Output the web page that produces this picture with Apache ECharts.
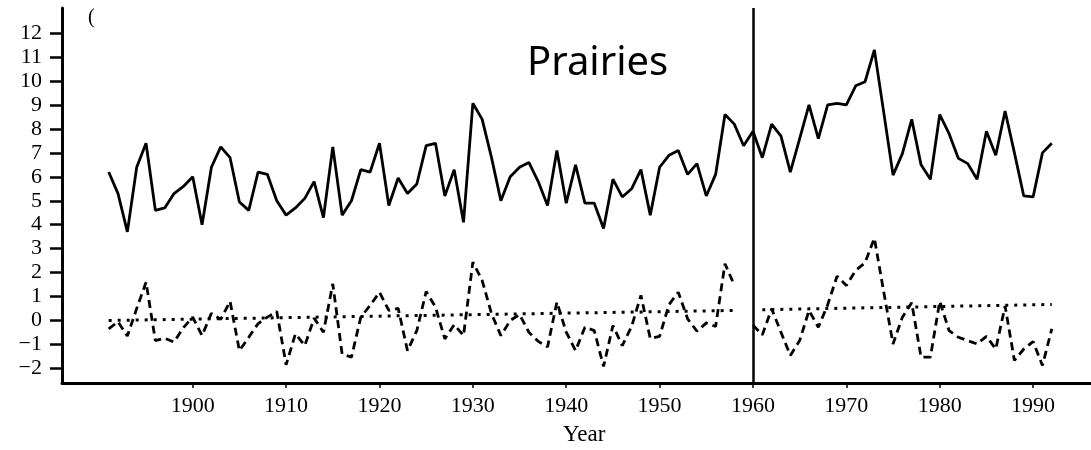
<!DOCTYPE html>
<html>
<head>
<meta charset="utf-8">
<script src="https://cdn.jsdelivr.net/npm/echarts@6/dist/echarts.min.js"></script>
<style>
  html, body { margin: 0; padding: 0; background: #fff; }
  #chart { width: 1091px; height: 450px; }
</style>
</head>
<body>
<div id="chart"></div>
<script>
// data, one value per year from 1891
const firstYear = 1891;
const solidValues = [
  6.2, 5.3, 3.7, 6.4, 7.4, 4.6, 4.7, 5.3, 5.6, 6.0,
  4.0, 6.4, 7.25, 6.8, 4.95, 4.6, 6.2, 6.1, 5.0, 4.4,
  4.7, 5.1, 5.8, 4.3, 7.25, 4.4, 5.0, 6.3, 6.2, 7.4,
  4.8, 5.95, 5.3, 5.7, 7.3, 7.4, 5.2, 6.3, 4.1, 9.07,
  8.4, 6.8, 5.0, 6.0, 6.4, 6.6, 5.8, 4.8, 7.1, 4.9,
  6.5, 4.9, 4.9, 3.84, 5.9, 5.16, 5.5, 6.3, 4.4, 6.4,
  6.9, 7.1, 6.1, 6.55, 5.2, 6.1, 8.6, 8.2, 7.3, 7.9,
  6.8, 8.2, 7.7, 6.2, 7.6, 9.0, 7.6, 9.0, 9.07, 9.0,
  9.8, 9.97, 11.3, 8.7, 6.07, 6.97, 8.4, 6.5, 5.9, 8.6,
  7.8, 6.77, 6.55, 5.9, 7.9, 6.9, 8.75, 7.0, 5.2, 5.16,
  7.0, 7.4
];
const dashedValues = [
  -0.35, -0.05, -0.65, 0.5, 1.6, -0.84, -0.74, -0.9, -0.3, 0.14,
  -0.63, 0.3, 0.05, 0.8, -1.26, -0.7, -0.13, 0.14, 0.38, -1.85,
  -0.56, -1.05, 0.1, -0.49, 1.53, -1.4, -1.53, 0.14, 0.63, 1.18,
  0.42, 0.51, -1.26, -0.42, 1.21, 0.56, -0.77, -0.17, -0.63, 2.44,
  1.67, 0.28, -0.63, 0.0, 0.25, -0.49, -0.87, -1.1, 0.77, -0.49,
  -1.26, -0.28, -0.42, -1.92, -0.21, -1.05, -0.25, 1.05, -0.75, -0.66,
  0.66, 1.18, 0.07, -0.45, -0.1, -0.25, 2.37, 1.48, null, -0.2,
  -0.6, 0.49, -0.49, -1.46, -0.84, 0.42, -0.28, 0.66, 1.85, 1.46,
  2.09, 2.41, 3.44, 1.2, -0.98, 0.14, 0.74, -1.53, -1.53, 0.8,
  -0.42, -0.7, -0.84, -0.98, -0.66, -1.19, 0.6, -1.67, -1.19, -0.88,
  -1.88, -0.35
];
// dotted trend lines, start and end of each period
const trendBefore = [[1891, 0.0], [1958, 0.42]];
const trendAfter = [[1961, 0.45], [1992, 0.67]];
const breakYear = 1960;
const xTicks = [1900, 1910, 1920, 1930, 1940, 1950, 1960, 1970, 1980, 1990];
const yTicks = [-2, -1, 0, 1, 2, 3, 4, 5, 6, 7, 8, 9, 10, 11, 12];

const years = solidValues.map((_, i) => firstYear + i);
const serif = '"Liberation Serif", "Times New Roman", serif';

const chart = echarts.init(document.getElementById('chart'));
chart.setOption({
  animation: false,
  backgroundColor: '#fff',
  grid: { left: 62, right: 0, top: 8, bottom: 67, containLabel: false },
  xAxis: {
    type: 'value',
    min: 1886,
    max: 1996.2,
    splitLine: { show: false },
    axisLine: { onZero: false, lineStyle: { color: '#000', width: 3 } },
    axisTick: { length: 5, lineStyle: { color: '#000', width: 1.5 }, customValues: xTicks },
    axisLabel: {
      color: '#000', fontFamily: serif, fontSize: 22, margin: 12,
      customValues: xTicks, formatter: (v) => String(v),
    },
  },
  yAxis: {
    type: 'value',
    min: -2.61,
    max: 13.05,
    splitLine: { show: false },
    axisLine: { show: true, onZero: false, lineStyle: { color: '#000', width: 3 } },
    axisTick: { show: true, length: 12, lineStyle: { color: '#000', width: 2.5 }, customValues: yTicks },
    axisLabel: {
      color: '#000', fontFamily: serif, fontSize: 22, margin: 20,
      customValues: yTicks, formatter: (v) => String(v).replace('-', '\u2212'),
    },
  },
  series: [
    {
      type: 'line',
      data: years.map((y, i) => [y, solidValues[i]]),
      showSymbol: false,
      lineStyle: { color: '#000', width: 2.8 },
      markLine: {
        silent: true,
        symbol: 'none',
        label: { show: false },
        lineStyle: { color: '#000', width: 2.5, type: 'solid' },
        data: [{ xAxis: breakYear }],
      },
    },
    {
      type: 'line',
      data: years.map((y, i) => [y, dashedValues[i]]),
      showSymbol: false,
      connectNulls: false,
      lineStyle: { color: '#000', width: 2.8, type: [8, 5] },
    },
    {
      type: 'line',
      data: trendBefore,
      showSymbol: false,
      lineStyle: { color: '#000', width: 3, type: [3, 6] },
    },
    {
      type: 'line',
      data: trendAfter,
      showSymbol: false,
      lineStyle: { color: '#000', width: 3, type: [3, 6] },
    },
  ],
  graphic: [
    {
      type: 'text',
      left: 527,
      top: 44,
      style: { text: 'Prairies', font: '40px "Noto Sans", "Open Sans", sans-serif', fill: '#000' },
    },
    {
      type: 'text',
      left: 88,
      top: 8,
      style: { text: '(', font: '20px ' + serif, fill: '#000' },
    },
    {
      type: 'text',
      left: 563,
      top: 423,
      style: { text: 'Year', font: '23px ' + serif, fill: '#000' },
    },
  ],
});
</script>
</body>
</html>
